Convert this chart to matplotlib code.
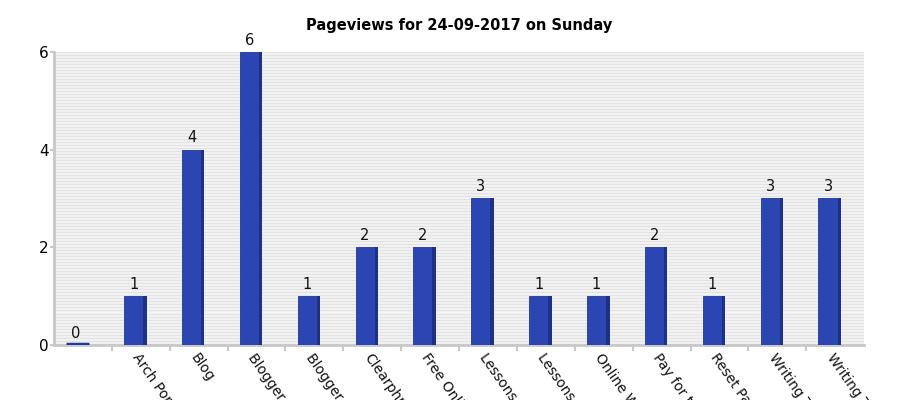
import numpy as np
import matplotlib
matplotlib.use("Agg")
import matplotlib.pyplot as plt

# page names as shown (cut off by the image edge in the original)
pages = ["", "Arch Portfolio", "Blog", "Blogger Intro", "Blogger Setup",
         "Clearphrase", "Free Online", "Lessons List", "Lessons Part",
         "Online Writing", "Pay for transl", "Reset Password",
         "Writing Tips", "Writing Tools"]
views = [0, 1, 4, 6, 1, 2, 2, 3, 1, 1, 2, 1, 3, 3]

front = "#2b46b3"
side = "#1e3183"
grey = "#c8c8c8"

fig = plt.figure(figsize=(9, 4), dpi=100)
ax = fig.add_axes([0.06, 0.1375, 0.9002, 0.7325])

x = np.arange(len(pages))
ax.set_xlim(-0.5, len(pages) - 0.5)
ax.set_ylim(0, 6)

# striped background
ax.set_facecolor("#f5f5f5")
ax.hlines(np.arange(0.03, 6, 0.0615), -0.5, len(pages) - 0.5,
          color="#e3e3e3", lw=1, zorder=0)

# bars with a dark side face
ax.bar(x - 0.29, views, width=0.33, align="edge", color=front,
       edgecolor="#22389a", lw=0.6, zorder=3)
ax.bar(x + 0.04, views, width=0.06, align="edge", color=side, lw=0, zorder=3)
ax.hlines(0.02, x[0] - 0.29, x[0] + 0.10, color="#22389a", lw=2.5, zorder=4)

for xi, v in zip(x, views):
    ax.annotate(str(v), (xi - 0.125, v), xytext=(0, 3), textcoords="offset points",
                ha="center", va="bottom", fontsize=10.5, color="#111111")

ax.set_title("Pageviews for 24-09-2017 on Sunday", fontsize=10.5,
             fontweight="bold", pad=16)

ax.set_yticks([0, 2, 4, 6])
ax.set_xticks(x[:-1] + 0.5)
ax.set_xticklabels([])
ax.tick_params(axis="y", length=3, width=1.5, color=grey, labelsize=11, pad=1)
ax.tick_params(axis="x", length=4, width=1.5, color=grey)

for i, name in enumerate(pages):
    ax.text(x[i] + 0.0, -0.12, name, rotation=-55, ha="left", va="top",
            rotation_mode="anchor", fontsize=10, color="#111111",
            transform=ax.transData, clip_on=False)

for s in ["top", "right"]:
    ax.spines[s].set_visible(False)
ax.spines["left"].set_color(grey)
ax.spines["left"].set_linewidth(2)
ax.spines["bottom"].set_color(grey)
ax.spines["bottom"].set_linewidth(2)

fig.savefig("out.png", dpi=100)
